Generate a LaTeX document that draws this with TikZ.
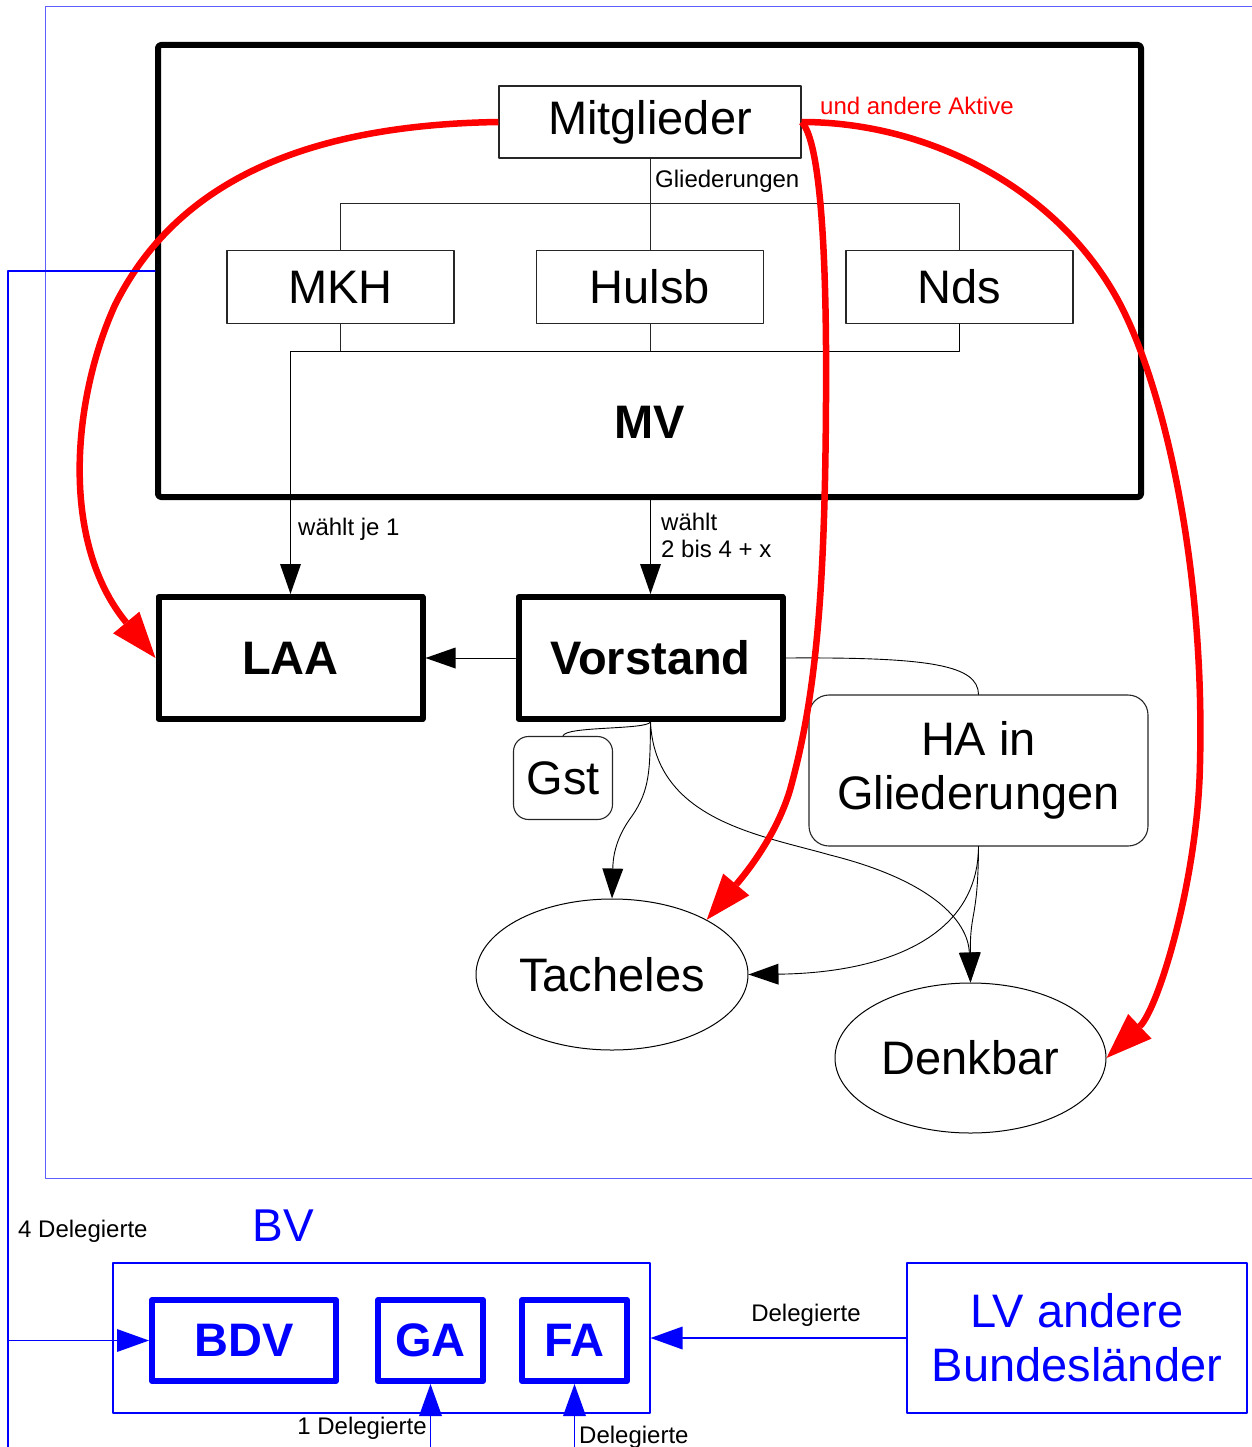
\documentclass[tikz,border=0pt]{standalone}
\usepackage{fontspec}
\setmainfont{Liberation Sans}
\usetikzlibrary{arrows.meta,shapes.geometric}
\definecolor{hellblau}{RGB}{95,95,255}

\begin{document}
\begin{tikzpicture}[x=1pt,y=-1pt,line cap=round,line join=round,
	gross/.style={font=\fontsize{47}{54}\selectfont},
	klein/.style={font=\fontsize{24}{27}\selectfont},
	kasten/.style={draw=black!85,line width=1.1pt,inner sep=0pt,gross},
	fettkasten/.style={draw,line width=6pt,inner sep=0pt,font=\fontsize{47}{54}\selectfont\bfseries},
	rundkasten/.style={kasten,rounded corners=#1},
	oval/.style={ellipse,draw,line width=1pt,inner sep=0pt,gross},
	linie/.style={draw,line width=0.9pt},
	pfeil/.style={linie,-{Triangle[length=30pt,width=21pt,line width=0pt]}},
	rotpfeil/.style={draw=red,line width=6.5pt,line cap=butt,-{Triangle[length=46pt,width=34pt,line width=0pt]}},
	blaukasten/.style={draw=blue,line width=1.1pt,inner sep=0pt,text=blue,gross},
	blaufett/.style={draw=blue,line width=6pt,inner sep=0pt,text=blue,font=\fontsize{47}{54}\selectfont\bfseries},
	blaupfeil/.style={draw=blue,line width=1.1pt,-{Triangle[length=32pt,width=23pt,line width=0pt]}}]
	\useasboundingbox (0,0) rectangle (1251,1447);

	% aeusserer Rahmen
	\draw[hellblau,line width=1pt] (1253,7) -- (45,7) -- (45,1178) -- (1253,1178);

	% MV mit Gliederungen
	\node[draw,line width=6pt,rounded corners=3pt,minimum width=983pt,minimum height=452pt] (mvbox) at (649.5,271) {};
	\node[font=\fontsize{47}{54}\selectfont\bfseries] (mv) at (650,422) {MV};
	\node[kasten,minimum width=302pt,minimum height=72pt] (mitglieder) at (650,122) {\raisebox{-3pt}{Mitglieder}};
	\node[kasten,minimum width=227pt,minimum height=73pt] (mkh) at (340.5,287) {MKH};
	\node[kasten,minimum width=227pt,minimum height=73pt] (hulsb) at (650,287) {Hulsb};
	\node[kasten,minimum width=227pt,minimum height=73pt] (nds) at (959.5,287) {Nds};
	\node[klein,anchor=west,inner sep=0pt] (gliederungen) at (655,181) {Gliederungen};
	\node[klein,anchor=west,inner sep=0pt,text=red] (aktive) at (820,106) {und andere Aktive};

	\draw[linie,black!85] (mitglieder.south) -- (hulsb.north);
	\draw[linie,black!85] (mkh.north) -- ++(0,-46) -| (nds.north);
	\draw[linie,black!85] (mkh.south) -- ++(0,27);
	\draw[linie,black!85] (hulsb.south) -- ++(0,27);

	% gewaehlte Gremien
	\node[fettkasten,minimum width=264pt,minimum height=122pt] (laa) at (290.5,658) {LAA};
	\node[fettkasten,minimum width=264pt,minimum height=122pt] (vorstand) at (650.5,658) {Vorstand};
	\node[klein,anchor=west,inner sep=0pt] (waehltje) at (298,529) {wählt je 1};
	\node[klein,anchor=west,inner sep=0pt,align=left] (waehlt) at (661,535) {wählt\\2 bis 4 + x};

	\draw[pfeil] (nds.south) -- ++(0,27) -| (laa.north);
	\draw[pfeil] (vorstand.north |- mvbox.south) -- (vorstand.north);
	\draw[pfeil] (vorstand.west) -- (laa.east);

	\node[rundkasten=20pt,minimum width=339pt,minimum height=151pt,align=center] (ha) at (978.5,770.5) {\raisebox{-4pt}{\parbox{320pt}{\centering HA in\\Gliederungen}}};
	\node[rundkasten=15pt,minimum width=99pt,minimum height=83pt] (gst) at (563,778) {Gst};
	\node[oval,minimum width=272pt,minimum height=151pt] (tacheles) at (612,974.5) {Tacheles};
	\node[oval,minimum width=271pt,minimum height=150pt] (denkbar) at (970.5,1058) {Denkbar};

	\draw[linie] (vorstand.east) .. controls (930,657) and (978,665) .. (ha.north);
	\draw[linie] (vorstand.south) .. controls (646,730) and (565,726) .. (gst.north);
	\draw[pfeil] (vorstand.south) .. controls (650,770) and (650,790) .. (632,816)
		.. controls (614,840) and (613,860) .. (tacheles.north);
	\draw[pfeil] (vorstand.south) .. controls (655,820) and (760,835) .. (830,855)
		.. controls (930,880) and (968,920) .. (denkbar.north);
	\draw[pfeil] (ha.south) .. controls (978,940) and (880,973) .. (tacheles.east);
	\draw[pfeil] (ha.south) .. controls (978,920) and (970,910) .. (denkbar.north);

	% rote Pfeile
	\draw[rotpfeil] (mitglieder.west) .. controls (300,125) and (175,185) .. (115,305)
		.. controls (72,400) and (60,542) .. (laa.west);
	\draw[rotpfeil] (mitglieder.east) .. controls (820,140) and (827,250) .. (826,400)
		.. controls (825,600) and (815,700) .. (790,790)
		.. controls (775,840) and (740,880) .. (tacheles.30);
	\draw[rotpfeil] (mitglieder.east) .. controls (930,122) and (1060,190) .. (1120,304)
		.. controls (1162,384) and (1205,560) .. (1200,763)
		.. controls (1198,880) and (1158,1009) .. (denkbar.east);

	% BV
	\node[text=blue,font=\fontsize{46}{52}\selectfont] (bv) at (283,1226) {BV};
	\node[blaukasten,minimum width=537pt,minimum height=150pt] (bvbox) at (381.5,1338) {};
	\node[blaufett,minimum width=184pt,minimum height=81pt] (bdv) at (244,1340.5) {BDV};
	\node[blaufett,minimum width=105pt,minimum height=81pt] (ga) at (430.5,1340.5) {GA};
	\node[blaufett,minimum width=105pt,minimum height=81pt] (fa) at (574.5,1340.5) {FA};
	\node[blaukasten,minimum width=340pt,minimum height=150pt,align=center] (lv) at (1077,1338) {LV andere\\Bundesländer};

	\coordinate (ecke) at (8,271);
	\coordinate (ende) at (8,1449);
	\coordinate (abzweig) at (8,1340.5);
	\coordinate (gaunten) at (430.5,1449);
	\coordinate (faunten) at (574.5,1449);

	\draw[blue,line width=1.1pt] (mvbox.west) -- (ecke) -- (ende);
	\draw[blaupfeil] (abzweig) -- (bdv.west);
	\draw[blaupfeil] (gaunten) -- (ga.south);
	\draw[blaupfeil] (faunten) -- (fa.south);
	\draw[blaupfeil] (lv.west) -- (bvbox.east);

	\node[klein,anchor=west,inner sep=0pt] (vierdel) at (18,1231) {4 Delegierte};
	\node[klein,anchor=east,inner sep=0pt] (eindel) at (427,1428) {1 Delegierte};
	\node[klein,anchor=west,inner sep=0pt] (fadel) at (579,1437) {Delegierte};
	\node[klein,inner sep=0pt] (lvdel) at (806,1315) {Delegierte};
\end{tikzpicture}
\end{document}
